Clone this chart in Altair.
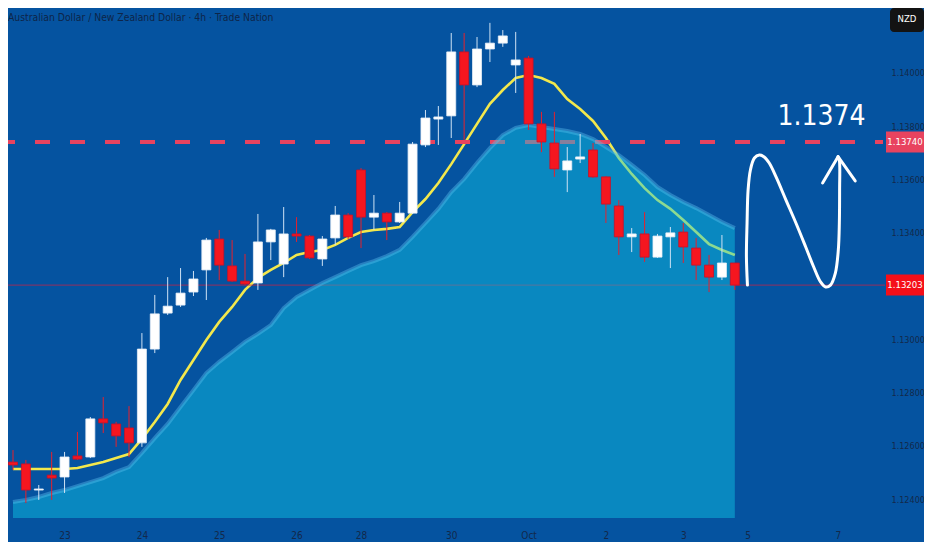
import altair as alt
import pandas as pd

# ---------------- data ----------------
candle_idx = list(range(57))
opens = [1.12539, 1.12532, 1.12434, 1.12490, 1.12483, 1.12562, 1.12558, 1.12701, 1.12682, 1.12667,
         1.12611, 1.12963, 1.13098, 1.13128, 1.13177, 1.13260, 1.13376, 1.13275, 1.13218, 1.13211,
         1.13365, 1.13282, 1.13395, 1.13387, 1.13301, 1.13380, 1.13466, 1.13635, 1.13458, 1.13473,
         1.13440, 1.13473, 1.13729, 1.13826, 1.13838, 1.14078, 1.13954, 1.14089, 1.14111, 1.14029,
         1.14055, 1.13808, 1.13736, 1.13635, 1.13676, 1.13710, 1.13609, 1.13500, 1.13384, 1.13395,
         1.13308, 1.13384, 1.13402, 1.13342, 1.13278, 1.13233, 1.13286]
highs = [1.12584, 1.12547, 1.12453, 1.12577, 1.12577, 1.12652, 1.12708, 1.12783, 1.12690, 1.12749,
         1.13023, 1.13166, 1.13233, 1.13267, 1.13256, 1.13380, 1.13410, 1.13372, 1.13320, 1.13470,
         1.13414, 1.13496, 1.13458, 1.13391, 1.13387, 1.13500, 1.13473, 1.13642, 1.13541, 1.13477,
         1.13515, 1.13740, 1.13860, 1.13875, 1.14149, 1.14149, 1.14134, 1.14187, 1.14160, 1.14153,
         1.14063, 1.13853, 1.13853, 1.13721, 1.13770, 1.13736, 1.13612, 1.13522, 1.13417, 1.13477,
         1.13395, 1.13421, 1.13436, 1.13380, 1.13316, 1.13391, 1.13286]
lows = [1.12509, 1.12385, 1.12397, 1.12397, 1.12423, 1.12547, 1.12554, 1.12648, 1.12596, 1.12558,
        1.12596, 1.12948, 1.13091, 1.13121, 1.13162, 1.13147, 1.13222, 1.13215, 1.13203, 1.13185,
        1.13297, 1.13233, 1.13365, 1.13301, 1.13275, 1.13353, 1.13376, 1.13342, 1.13410, 1.13372,
        1.13436, 1.13470, 1.13721, 1.13729, 1.13755, 1.13748, 1.13946, 1.14040, 1.14097, 1.13924,
        1.13785, 1.13702, 1.13609, 1.13552, 1.13661, 1.13605, 1.13436, 1.13316, 1.13327, 1.13290,
        1.13305, 1.13267, 1.13286, 1.13222, 1.13177, 1.13222, 1.13185]
closes = [1.12528, 1.12434, 1.12438, 1.12479, 1.12558, 1.12550, 1.12701, 1.12686, 1.12637, 1.12611,
          1.12963, 1.13095, 1.13124, 1.13173, 1.13226, 1.13372, 1.13278, 1.13218, 1.13207, 1.13365,
          1.13410, 1.13395, 1.13387, 1.13305, 1.13376, 1.13466, 1.13384, 1.13458, 1.13473, 1.13440,
          1.13473, 1.13732, 1.13830, 1.13834, 1.14078, 1.13954, 1.14089, 1.14111, 1.14138, 1.14048,
          1.13808, 1.13740, 1.13639, 1.13669, 1.13684, 1.13609, 1.13507, 1.13384, 1.13395, 1.13308,
          1.13387, 1.13399, 1.13346, 1.13278, 1.13233, 1.13286, 1.13203]
ma_line = [1.12513, 1.12513, 1.12513, 1.12513, 1.12513, 1.12517, 1.12528, 1.12539, 1.12554, 1.12569,
           1.12626, 1.12689, 1.12757, 1.12847, 1.12922, 1.12997, 1.13065, 1.13121, 1.13185, 1.13230,
           1.13260, 1.13286, 1.13316, 1.13327, 1.13335, 1.13354, 1.13380, 1.13402, 1.13410, 1.13414,
           1.13421, 1.13477, 1.13526, 1.13586, 1.13657, 1.13732, 1.13808, 1.13883, 1.13935, 1.13980,
           1.13991, 1.13980, 1.13958, 1.13901, 1.13864, 1.13819, 1.13755, 1.13680, 1.13620, 1.13567,
           1.13522, 1.13489, 1.13447, 1.13402, 1.13357, 1.13335, 1.13316]
cloud_top = [1.12389, 1.12397, 1.12408, 1.12423, 1.12434, 1.12449, 1.12464, 1.12479, 1.12502, 1.12520,
             1.12573, 1.12629, 1.12682, 1.12746, 1.12809, 1.12873, 1.12915, 1.12952, 1.12990, 1.13020,
             1.13053, 1.13117, 1.13158, 1.13185, 1.13211, 1.13233, 1.13256, 1.13278, 1.13293, 1.13312,
             1.13335, 1.13384, 1.13436, 1.13489, 1.13552, 1.13601, 1.13661, 1.13717, 1.13766, 1.13793,
             1.13804, 1.13796, 1.13789, 1.13781, 1.13770, 1.13751, 1.13721, 1.13691, 1.13654, 1.13616,
             1.13571, 1.13541, 1.13515, 1.13492, 1.13466, 1.13440, 1.13417]

tick_pos = [4, 10, 16, 22, 27, 34, 40, 46, 52, 57, 64]
tick_labels = ["23", "24", "25", "26", "28", "30", "Oct", "2", "3", "5", "7"]
price_ticks = [1.124, 1.126, 1.128, 1.130, 1.134, 1.136, 1.138, 1.140]

target_level = 1.13740
last_price = 1.13203
title_text = "Australian Dollar / New Zealand Dollar · 4h · Trade Nation"
target_text = "1.1374"
currency = "NZD"

# hand-drawn projection path (candle index, price)
path_x = [56.98, 56.90, 56.95, 57.03, 57.21, 57.52, 57.90, 58.28, 58.67, 59.20, 59.97, 60.74,
          61.50, 62.12, 62.65, 63.04, 63.42, 63.80, 64.03, 64.11, 64.13, 64.11, 64.01]
path_y = [1.13203, 1.13310, 1.13436, 1.13560, 1.13635, 1.13680, 1.13691, 1.13684, 1.13661, 1.13609,
          1.13522, 1.13436, 1.13346, 1.13271, 1.13215, 1.13196, 1.13203, 1.13248, 1.13335, 1.13436,
          1.13560, 1.13672, 1.13685]
arrow_x = [62.81, 64.01, 65.34]
arrow_y = [1.13586, 1.13685, 1.13594]

# ---------------- layout ----------------
W, H = 862, 510
X_DOMAIN = [0, 66.1]
Y_DOMAIN = [1.123291, 1.142428]
BG = "#0553a0"
LABEL = "#13294b"
FONT = "Liberation Sans Narrow, DejaVu Sans Condensed, Liberation Sans, sans-serif"
px_per_price = H / (Y_DOMAIN[1] - Y_DOMAIN[0])
box_half = 10.5 / px_per_price

df = pd.DataFrame({"i": candle_idx, "open": opens, "high": highs, "low": lows,
                   "close": closes, "ma": ma_line, "cloud": cloud_top})
path_df = pd.DataFrame({"x": path_x, "y": path_y, "o": list(range(len(path_x)))})
arrow_df = pd.DataFrame({"x": arrow_x, "y": arrow_y, "o": list(range(len(arrow_x)))})
one = pd.DataFrame({"k": [0]})

label_expr = " : ".join(f"datum.value == {p} ? '{t}'" for p, t in zip(tick_pos, tick_labels)) + " : ''"

xs = alt.Scale(domain=X_DOMAIN, nice=False, zero=False)
ys = alt.Scale(domain=Y_DOMAIN, nice=False, zero=False)

x_axis = alt.Axis(values=tick_pos, labelExpr=label_expr, labelPadding=12, labelOverlap=False,
                  labelFlush=False, domain=False, ticks=False, grid=False, labelFontSize=10)
y_axis = alt.Axis(orient="right", values=price_ticks, format=".5f", labelPadding=21,
                  labelOverlap=False, domain=False, ticks=False, grid=False, labelFontSize=9)

base = alt.Chart(df)

dashed = alt.Chart(one).mark_rule(color="#e8435f", strokeWidth=4, strokeDash=[15, 20],
                                  strokeDashOffset=8).encode(
    y=alt.datum(target_level), x=alt.value(0), x2=alt.value(W + 13))

price_line = alt.Chart(one).mark_rule(color="#d42040", strokeWidth=1, opacity=0.7).encode(
    y=alt.datum(last_price), x=alt.value(0), x2=alt.value(W + 15))

ma = base.mark_line(color="#f3e84c", strokeWidth=2.6, clip=True).encode(
    x=alt.X("i:Q", scale=xs, axis=x_axis, title=None),
    y=alt.Y("ma:Q", scale=ys, axis=y_axis, title=None))

cloud = base.mark_area(color="#10c9e7", opacity=0.45, clip=True).encode(
    x="i:Q", y="cloud:Q", y2=alt.datum(Y_DOMAIN[0]))

cloud_edge = base.mark_line(color="#5cc4f0", strokeWidth=4, opacity=0.4, clip=True).encode(
    x="i:Q", y="cloud:Q")

up_cond = "datum.close >= datum.open"
wicks = base.mark_rule(strokeWidth=1, clip=True).encode(
    x="i:Q", y="low:Q", y2="high:Q",
    color=alt.condition(up_cond, alt.value("#cfe2f4"), alt.value("#e8202c")))

bodies = base.mark_bar(width=9, clip=True, strokeWidth=0.8).encode(
    x="i:Q", y="open:Q", y2="close:Q",
    color=alt.condition(up_cond, alt.value("#ffffff"), alt.value("#f5161f")),
    stroke=alt.condition(up_cond, alt.value("#e6eef6"), alt.value("#c8102a")))

box_target = alt.Chart(one).mark_rect(color="#e8435f").encode(
    x=alt.value(W + 16), x2=alt.value(W + 54),
    y=alt.datum(target_level + box_half), y2=alt.datum(target_level - box_half))
box_last = alt.Chart(one).mark_rect(color="#f50f19").encode(
    x=alt.value(W + 16), x2=alt.value(W + 54),
    y=alt.datum(last_price + box_half), y2=alt.datum(last_price - box_half))
txt_target = alt.Chart(one).mark_text(color="white", font=FONT, fontSize=9.5, align="center",
                                      baseline="middle").encode(
    x=alt.value(W + 35), y=alt.datum(target_level), text=alt.value(f"{target_level:.5f}"))
txt_last = alt.Chart(one).mark_text(color="white", font=FONT, fontSize=9.5, align="center",
                                    baseline="middle").encode(
    x=alt.value(W + 35), y=alt.datum(last_price), text=alt.value(f"{last_price:.5f}"))

nzd_box = alt.Chart(one).mark_rect(color="#131313", cornerRadius=4).encode(
    x=alt.value(W + 20), x2=alt.value(W + 54), y=alt.value(0), y2=alt.value(24))
nzd_txt = alt.Chart(one).mark_text(color="white", font=FONT, fontSize=9.5, align="center",
                                   baseline="middle").encode(
    x=alt.value(W + 37), y=alt.value(11), text=alt.value(currency))

title = alt.Chart(one).mark_text(color="#0e2548", font=FONT, fontSize=10.3, align="left",
                                 baseline="middle").encode(
    x=alt.value(0), y=alt.value(10), text=alt.value(title_text))

target_lbl = alt.Chart(one).mark_text(color="white", font=FONT, fontSize=28, align="center",
                                      baseline="alphabetic", dy=-17).encode(
    x=alt.datum(62.73), y=alt.datum(target_level), text=alt.value(target_text))

curve = alt.Chart(path_df).mark_line(color="white", strokeWidth=3, interpolate="catmull-rom",
                                     strokeCap="round").encode(
    x="x:Q", y="y:Q", order="o:Q")
arrow = alt.Chart(arrow_df).mark_line(color="white", strokeWidth=3, strokeCap="round",
                                      strokeJoin="round").encode(
    x="x:Q", y="y:Q", order="o:Q")

chart = alt.layer(
    ma, dashed, price_line, cloud, cloud_edge, wicks, bodies,
    box_target, box_last, txt_target, txt_last, nzd_box, nzd_txt, title, target_lbl, curve, arrow
).properties(
    width=W, height=H, background=BG,
    padding={"left": 0, "top": 0, "right": 54, "bottom": 24},
    autosize=alt.AutoSizeParams(type="none"),
).configure_view(stroke=None, fill=BG).configure_axis(
    labelColor=LABEL, labelFont=FONT
)

chart.save("out.html", embed_options={"renderer": "svg", "actions": False})
